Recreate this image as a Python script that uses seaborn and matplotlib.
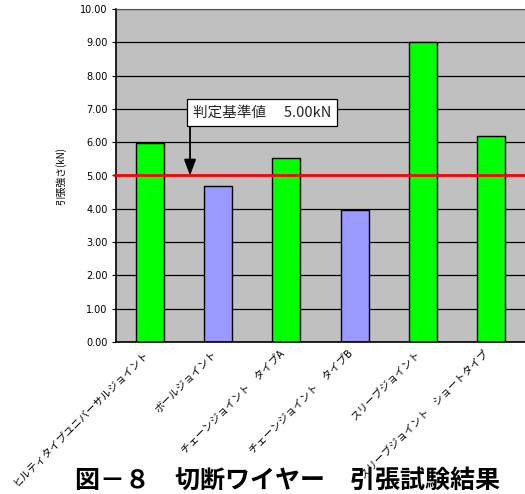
import matplotlib
matplotlib.use("Agg")
import matplotlib.pyplot as plt
import seaborn as sns
import pandas as pd

# Joint types and measured tensile strength (kN)
joints = [
    "ヒルティタイプユニバーサルジョイント",
    "ボールジョイント",
    "チェーンジョイント　タイプA",
    "チェーンジョイント　タイプB",
    "スリーブジョイント",
    "スリーブジョイント　ショートタイプ",
]
strength = [5.97, 4.69, 5.54, 3.95, 9.00, 6.20]
criterion = 5.00
y_ticks = [0, 1, 2, 3, 4, 5, 6, 7, 8, 9, 10]

sns.set_theme(style="white")
plt.rcParams["font.family"] = ["Noto Sans CJK JP", "DejaVu Sans"]

df = pd.DataFrame({"joint": joints, "strength": strength})
df["judge"] = ["合格" if v >= criterion else "不合格" for v in strength]

fig = plt.figure(figsize=(5.25, 4.94), dpi=100)
ax = fig.add_axes([116 / 525, 1 - 342 / 494, 409 / 525, 333 / 494])
ax.set_facecolor("#C0C0C0")
ax.set_axisbelow(True)

sns.barplot(data=df, x="joint", y="strength", hue="judge",
            palette={"合格": "#00FF00", "不合格": "#9999FF"}, saturation=1,
            width=0.41, dodge=False, edgecolor="black", linewidth=1.0,
            legend=False, ax=ax)

ax.set_xlim(-0.5, len(joints) - 0.5)
ax.set_ylim(0, 10)
ax.set_yticks(y_ticks)
ax.set_yticklabels([f"{v:.2f}" for v in y_ticks], fontsize=7, family="DejaVu Sans",
                   color="black")
ax.yaxis.grid(True, color="black", linewidth=0.9)
ax.xaxis.grid(False)

# category labels, with separators on the bottom axis
ax.set_xticks(range(len(joints)))
ax.set_xticklabels(joints, rotation=45, ha="right", va="bottom", rotation_mode="anchor",
                   fontsize=7.5, color="black")
ax.tick_params(axis="x", length=0, pad=10)
ax.set_xticks([i + 0.5 for i in range(len(joints) - 1)], minor=True)
ax.tick_params(axis="x", which="minor", direction="in", length=3, width=0.8, color="black")
ax.tick_params(axis="y", direction="out", length=3, width=0.8, color="black", left=True, pad=3)

for side in ["left", "bottom"]:
    ax.spines[side].set_color("black")
    ax.spines[side].set_linewidth(1.2)
ax.spines["top"].set_color("#555555")
ax.spines["top"].set_linewidth(0.8)
ax.spines["right"].set_visible(False)

ax.set_xlabel("")
ax.set_ylabel("引張強さ(kN)", fontsize=7, labelpad=10, color="black")

# criterion line with callout
ax.axhline(criterion, color="#FF0000", linewidth=2, zorder=4, clip_on=False,
           xmin=-0.005)
ax.annotate("", xy=(0.586, criterion), xytext=(0.586, 6.9),
            arrowprops=dict(arrowstyle="-|>,head_length=0.8,head_width=0.3",
                            color="black", lw=1.3, shrinkA=0, shrinkB=0),
            zorder=5)
ax.text(1.64, 6.89, "判定基準値　 5.00kN", fontsize=10.5, ha="center", va="center",
        zorder=6,
        bbox=dict(boxstyle="square,pad=0.42", facecolor="white", edgecolor="black",
                  linewidth=0.9))

fig.text(0.548, 1 - 488 / 494, "図－８　切断ワイヤー　引張試験結果",
         fontsize=18, fontweight="bold", ha="center", va="baseline", color="black")

fig.savefig("out.png", dpi=100, facecolor="white")
